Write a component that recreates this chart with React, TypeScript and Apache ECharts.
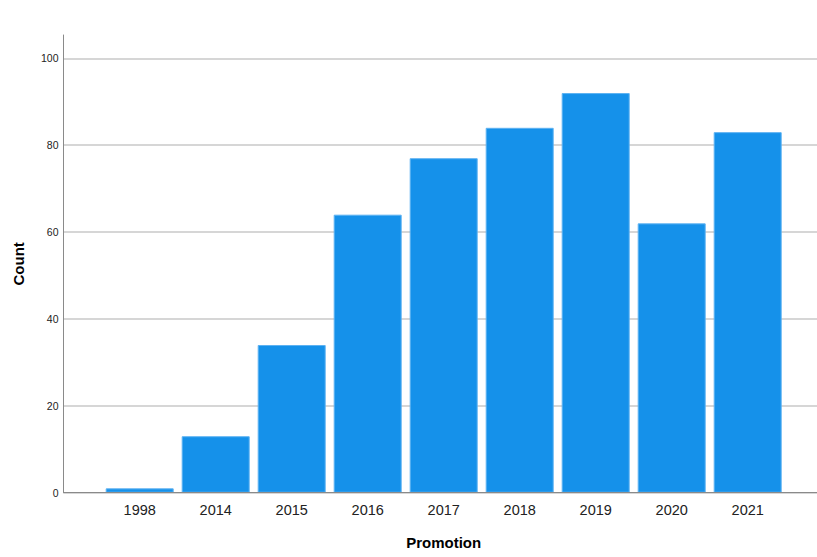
import React, { useEffect, useRef } from "react";
import * as echarts from "echarts";

const categories = ["1998", "2014", "2015", "2016", "2017", "2018", "2019", "2020", "2021"];
const counts = [1, 13, 34, 64, 77, 84, 92, 62, 83];
const yTicks = [0, 20, 40, 60, 80, 100];

export default function App() {
  const ref = useRef<HTMLDivElement>(null);
  useEffect(() => {
    if (!ref.current) return;
    const chart = echarts.init(ref.current, null, { renderer: "svg" });
    const font = "Liberation Sans, Arial, sans-serif";
    const axisGray = "#8a8a8a";
    const plotTop = 58.3;
    const plotBottom = 64.3;
    chart.setOption({
      animation: false,
      backgroundColor: "#ffffff",
      grid: [
        { left: 63.5, right: 0, top: plotTop, bottom: plotBottom, outerBoundsMode: "none", containLabel: false },
        { left: 63.5, right: 0, top: 35, bottom: plotBottom, outerBoundsMode: "none", containLabel: false },
        { left: 101.7, right: 31.3, top: plotTop, bottom: plotBottom, outerBoundsMode: "none", containLabel: false },
      ],
      xAxis: [
        {
          gridIndex: 0,
          type: "value",
          min: 0,
          max: 1,
          z: 5,
          axisLine: { show: true, lineStyle: { color: axisGray, width: 1 } },
          axisTick: { show: false },
          axisLabel: { show: false },
          splitLine: { show: false },
        },
        {
          gridIndex: 1,
          type: "value",
          min: 0,
          max: 1,
          show: false,
        },
        {
          gridIndex: 2,
          type: "category",
          data: categories,
          axisLine: { show: false },
          axisTick: { show: false },
          axisLabel: { fontSize: 14.5, color: "#222", fontFamily: font, margin: 10 },
          name: "Promotion",
          nameLocation: "middle",
          nameGap: 42,
          nameTextStyle: { fontSize: 15, fontWeight: "bold", color: "#000", fontFamily: font },
        },
      ],
      yAxis: [
        {
          gridIndex: 0,
          type: "value",
          min: yTicks[0],
          max: yTicks[yTicks.length - 1],
          interval: 20,
          axisLine: { show: false },
          axisTick: { show: false },
          axisLabel: { fontSize: 10.5, color: "#222", fontFamily: font, margin: 5 },
          splitLine: { show: true, lineStyle: { color: "#c8c8c8", width: 1.5 } },
        },
        {
          gridIndex: 1,
          type: "value",
          min: 0,
          max: 105.4,
          axisLine: { show: true, lineStyle: { color: axisGray, width: 1 } },
          axisTick: { show: false },
          axisLabel: { show: false },
          splitLine: { show: false },
          name: "Count",
          nameLocation: "middle",
          nameGap: 38,
          nameRotate: 90,
          nameTextStyle: { fontSize: 15, fontWeight: "bold", color: "#000", fontFamily: font },
        },
        {
          gridIndex: 2,
          type: "value",
          min: yTicks[0],
          max: yTicks[yTicks.length - 1],
          show: false,
        },
      ],
      series: [
        {
          type: "bar",
          xAxisIndex: 2,
          yAxisIndex: 2,
          data: counts,
          barWidth: 68,
          itemStyle: { color: "#1591EA", borderColor: "#5DB2F2", borderWidth: 1 },
        },
      ],
    });
    return () => chart.dispose();
  }, []);
  return (
    <div
      ref={ref}
      style={{ position: "absolute", left: 0, top: 0, width: 817, height: 557 }}
    />
  );
}
